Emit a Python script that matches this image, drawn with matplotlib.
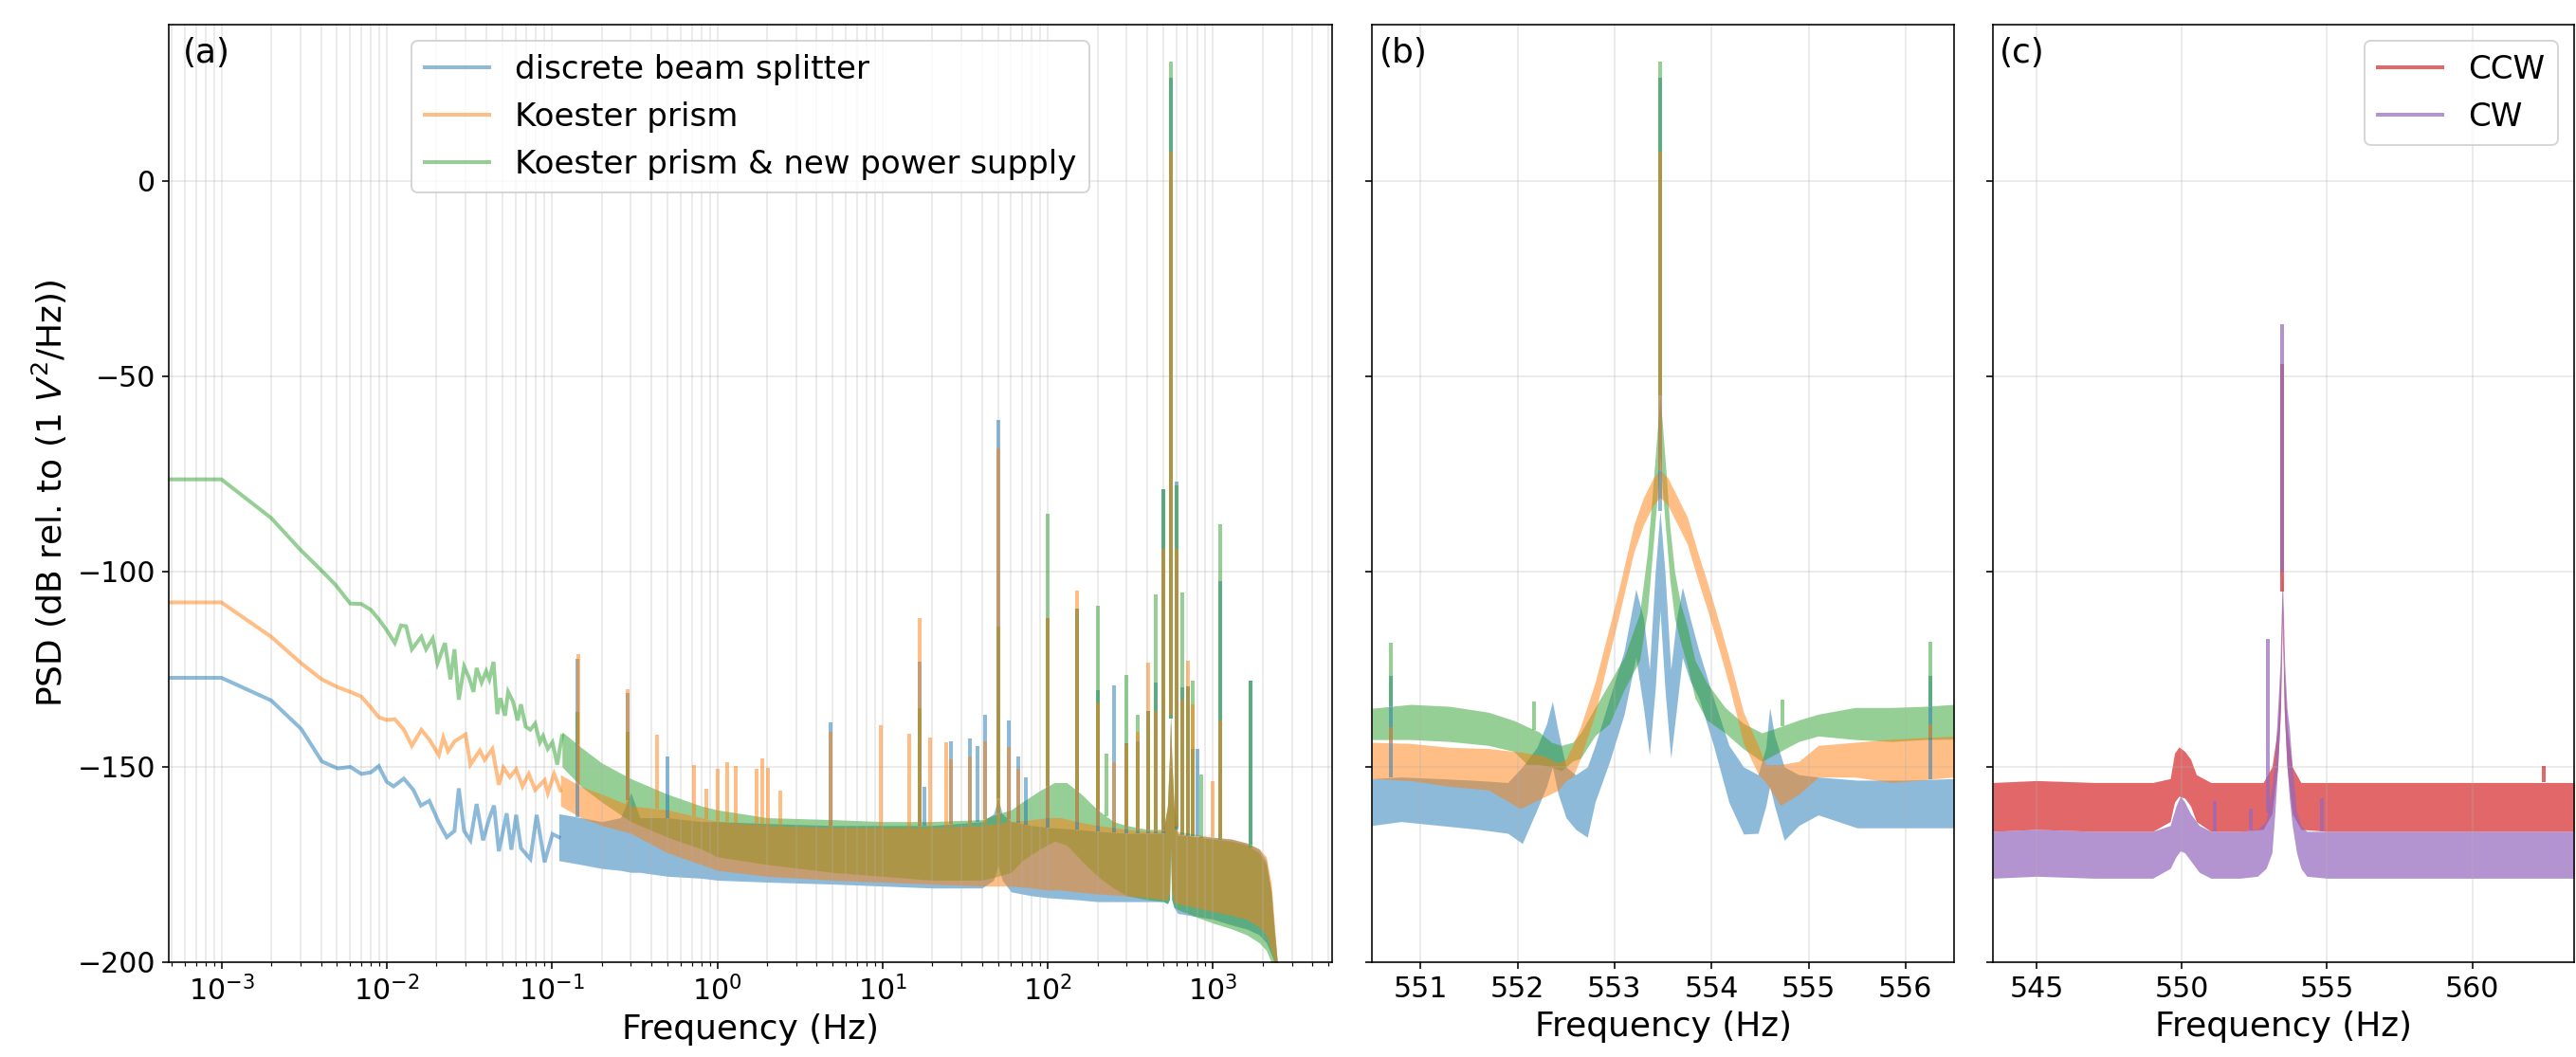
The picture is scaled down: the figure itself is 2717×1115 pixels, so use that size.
import numpy as np
import matplotlib
matplotlib.use("Agg")
import matplotlib.pyplot as plt
from matplotlib.lines import Line2D

# ---------------- colours / labels ----------------
C_BS, C_KP, C_NP = "#1f77b4", "#ff7f0e", "#2ca02c"
C_CCW, C_CW = "#d62728", "#9467bd"
labels_a = ["discrete beam splitter", "Koester prism", "Koester prism & new power supply"]
labels_c = ["CCW", "CW"]

# ================= Panel (a) : broadband PSD (Hz, dB) =================
# --- discrete beam splitter ---
bs_low_f = [4.88e-4, 1.0e-3, 2.0e-3, 3.04e-3, 4.05e-3, 5.05e-3, 6.02e-3, 7.02e-3, 8.02e-3, 8.95e-3,
            0.0100, 0.0110, 0.0127, 0.0145, 0.0161, 0.0181, 0.0207, 0.0231, 0.0257, 0.0273, 0.0294,
            0.0321, 0.0350, 0.0383, 0.0418, 0.0446, 0.0477, 0.0532, 0.0568, 0.0607, 0.0649, 0.0740,
            0.0808, 0.0903, 0.1007, 0.110]
bs_low_v = [-127.2, -127.2, -133.0, -140.3, -148.6, -150.4, -150.0, -151.8, -151.4, -149.8,
            -153.8, -155.0, -153.0, -155.9, -159.9, -158.7, -164.3, -168.0, -166.4, -155.5, -166.4,
            -168.8, -159.5, -168.8, -163.1, -159.9, -171.6, -161.9, -171.2, -162.3, -170.8, -173.6,
            -162.3, -174.4, -167.2, -168.0]
bs_band_f = [0.110, 0.15, 0.2, 0.26, 0.3, 0.34, 0.5, 0.8, 1, 2, 5, 10, 20, 40, 47, 50, 53, 60, 80,
             100, 150, 200, 300, 400, 500, 530, 545, 553, 562, 580, 610, 1000, 1300, 1600, 1900,
             2100, 2250, 2350, 2450]
bs_band_hi = [-162, -163, -164, -163, -156.6, -163, -163, -164, -164, -164.5, -165, -165, -165, -164,
              -162, -158, -162, -164, -165, -165.5, -166, -166.5, -167, -167, -167, -160, -147, -137,
              -147, -160, -167.5, -168, -168.5, -169.5, -171, -174, -182, -192, -200]
bs_band_lo = [-174, -175, -176, -176.5, -177, -177, -178, -178.5, -179, -179.5, -180, -180.5, -181,
              -181, -179, -175.2, -179, -182, -183, -183.5, -184, -184.5, -184.5, -184.5, -184.5,
              -185, -184, -170, -184, -186, -187.5, -189, -190.5, -191.5, -193, -195, -198, -200, -200]
bs_spk_f = [0.143, 0.288, 0.499, 4.82, 16.7, 18.0, 26.0, 34.0, 37.8, 42.0, 50.0, 58.0, 66.6, 74.0,
            100, 150, 200, 250, 300, 352, 403, 452, 500, 553.5, 604, 650, 701, 752, 800, 1110, 1680]
bs_spk_v = [-122.3, -131.0, -147.4, -138.7, -123.0, -155.0, -143.5, -142.7, -144.6, -136.6, -61.1,
            -138.1, -147.4, -152.8, -111.8, -109.5, -130.4, -129.1, -144.0, -143.5, -135.8, -128.4,
            -79.0, 26.4, -77.0, -129.6, -129.3, -145.5, -145.5, -102.5, -128.0]

# --- Koester prism ---
kp_low_f = [4.88e-4, 1.0e-3, 2.0e-3, 3.04e-3, 4.05e-3, 5.05e-3, 6.02e-3, 7.02e-3, 8.02e-3, 8.95e-3,
            0.0100, 0.0112, 0.0127, 0.0142, 0.0162, 0.0181, 0.0207, 0.0220, 0.0235, 0.0257, 0.0300,
            0.0321, 0.0366, 0.0391, 0.0436, 0.0477, 0.0509, 0.0556, 0.0607, 0.0663, 0.0724, 0.0791,
            0.0902, 0.0943, 0.1030, 0.1125]
kp_low_v = [-107.9, -107.9, -116.7, -123.5, -127.6, -129.6, -130.8, -132.0, -134.8, -137.3,
            -138.0, -137.8, -140.5, -144.6, -140.5, -143.0, -147.0, -142.5, -146.0, -143.5, -141.7,
            -149.4, -145.8, -148.2, -145.4, -154.6, -150.2, -152.6, -150.6, -155.0, -151.8, -155.9,
            -153.4, -156.7, -151.8, -156.0]
kp_band_f = [0.1125, 0.15, 0.2, 0.3, 0.5, 0.8, 1, 2, 5, 10, 20, 40, 60, 80, 100, 120, 150, 200, 300,
             400, 500, 530, 545, 553, 562, 580, 610, 1000, 1300, 1600, 1900, 2100, 2250, 2350, 2450]
kp_band_hi = [-152, -155, -157, -160, -161, -163, -164, -165, -165.5, -165.5, -165.5, -165, -164,
              -163.5, -163, -163, -164, -165, -166, -166.5, -166.5, -160, -147, -136, -147, -160,
              -166.5, -168, -168.5, -169.5, -171, -173, -180, -190, -200]
kp_band_lo = [-160, -163, -165, -167, -172, -175, -176.5, -178, -179, -179.5, -180, -180.5, -180.5,
              -181, -181.5, -181.5, -182, -182.5, -183, -183.5, -184, -184, -182, -170, -182,
              -184.5, -185, -187, -188, -189, -191, -193, -197, -200, -200]
kp_spk_f = [0.144, 0.288, 0.431, 0.719, 0.863, 1.0, 1.15, 1.30, 1.73, 1.87, 2.02, 2.4, 4.82, 9.7,
            14.5, 16.7, 19.3, 24.2, 26.0, 34.0, 42.0, 50.0, 58.0, 66.6, 100, 150, 200, 250, 300,
            352, 403, 452, 500, 553.5, 604, 650, 701, 752, 1000, 1110]
kp_spk_v = [-121.1, -130.0, -141.7, -149.5, -155.5, -150.5, -148.8, -149.8, -150.6, -147.9, -150.2,
            -156.0, -141.0, -139.3, -141.5, -112.0, -142.5, -143.8, -148.0, -147.4, -143.5, -68.5,
            -145.0, -150.5, -111.8, -104.8, -133.5, -148.9, -144.3, -141.0, -123.4, -135.8, -94.3,
            7.4, -94.3, -132.7, -122.9, -134.0, -153.6, -138.1]

# --- Koester prism & new power supply ---
np_low_f = [4.88e-4, 1.0e-3, 2.0e-3, 3.0e-3, 4.0e-3, 4.8e-3, 5.05e-3, 6.02e-3, 7.02e-3, 8.02e-3,
            8.95e-3, 0.0100, 0.0112, 0.0122, 0.0131, 0.0142, 0.0162, 0.0173, 0.0190, 0.0203, 0.0225,
            0.0243, 0.0257, 0.0273, 0.0294, 0.0315, 0.0335, 0.0350, 0.0375, 0.0400, 0.0418, 0.0443,
            0.0467, 0.0487, 0.0520, 0.0543, 0.0580, 0.0620, 0.0649, 0.0693, 0.0740, 0.0791, 0.0845,
            0.0883, 0.0943, 0.1007, 0.1076, 0.1150]
np_low_v = [-76.4, -76.4, -86.3, -94.4, -99.6, -103.0, -104.1, -108.2, -108.3, -109.8,
            -112.2, -115.0, -118.3, -113.8, -114.0, -119.9, -116.7, -119.9, -117.1, -123.5, -118.3,
            -127.6, -119.9, -132.8, -124.3, -127.2, -130.8, -124.7, -128.4, -125.5, -127.6, -123.1,
            -136.5, -132.4, -136.9, -130.8, -133.2, -138.1, -134.0, -139.7, -140.5, -138.9, -143.7,
            -142.1, -145.4, -143.7, -149.4, -142.1]
np_band_f = [0.115, 0.15, 0.2, 0.3, 0.5, 0.8, 1, 2, 5, 10, 20, 40, 50, 60, 70, 90, 110, 130, 160,
             200, 250, 300, 400, 500, 530, 545, 553, 562, 580, 610, 800, 1000, 1300, 1600, 1900,
             2100, 2250, 2350, 2450]
np_band_hi = [-141, -145, -149, -153, -157, -160, -161, -163, -163.5, -164, -164, -163.5, -162, -161,
              -159, -156, -154, -154, -157, -161, -164, -165, -166, -166, -160, -148, -137, -148,
              -160, -167, -168, -168.5, -169, -170, -172, -175, -182, -192, -200]
np_band_lo = [-150, -155, -159, -164, -168, -171, -173, -175, -177, -178, -179, -179, -178, -177,
              -174, -171, -169, -170, -174, -178, -181, -183, -184, -184.5, -185, -184, -172, -184,
              -186, -186.5, -188.5, -190, -191.5, -193, -195, -197, -200, -200, -200]
np_spk_f = [0.143, 0.288, 16.7, 50.0, 100, 150, 200, 225, 300, 352, 403, 452, 500, 553.5, 604, 650,
            701, 752, 847, 1110, 1680]
np_spk_v = [-136.0, -141.0, -135.0, -114.0, -85.2, -109.5, -108.7, -146.6, -126.5, -136.6, -135.8,
            -105.8, -79.0, 30.6, -78.0, -105.3, -129.3, -128.0, -152.0, -87.8, -128.0]

# ================= Panel (b) : zoom around 553.5 Hz =================
b_bs_f = [550.5, 550.8, 551.2, 551.6, 551.9, 552.05, 552.2, 552.3, 552.36, 552.42, 552.5, 552.6,
          552.72, 552.8, 552.95, 553.1, 553.22, 553.3, 553.36, 553.42, 553.47, 553.52, 553.58,
          553.64, 553.7, 553.78, 553.87, 554.02, 554.18, 554.33, 554.48, 554.56, 554.6, 554.65,
          554.75, 554.9, 555.1, 555.5, 556.0, 556.5]
b_bs_hi = [-153, -152.6, -153, -153.5, -154, -150, -145, -139, -133.2, -141, -150, -152, -150,
           -144.5, -132.4, -120.3, -104.5, -112, -125, -100, -84.5, -100, -125, -112, -104, -112,
           -120.3, -132.4, -144.5, -150, -152, -145, -134.8, -142, -150, -152, -152.6, -153.4,
           -153.4, -153]
b_bs_lo = [-165, -164, -165, -166, -167, -169.6, -161, -155, -150, -157, -163, -166, -168, -159,
           -148.6, -136.5, -122, -135, -147, -130, -110, -130, -147.8, -135, -122, -128, -132.4,
           -144.5, -159.1, -167.2, -167, -160, -155, -160, -168.8, -165, -162.3, -165.6, -165.6,
           -165.6]
b_bs_spk_f = [550.7, 553.47, 556.26]
b_bs_spk_v = [-126.8, 26.4, -126.8]

b_kp_f = [550.5, 550.9, 551.3, 551.7, 552.03, 552.25, 552.42, 552.5, 552.57, 552.65, 552.8, 552.95,
          553.05, 553.2, 553.3, 553.4, 553.47, 553.55, 553.65, 553.75, 553.87, 553.96, 554.09,
          554.18, 554.33, 554.48, 554.56, 554.71, 554.9, 555.1, 555.48, 555.86, 556.5]
b_kp_hi = [-143.7, -144, -145, -145.3, -146.2, -147, -149, -148, -144.5, -139.7, -128.4, -114,
           -104, -88, -81, -76, -74, -76, -81, -86, -96, -103, -114, -122, -136, -144.5, -149.4,
           -149.4, -148.6, -144.5, -143.7, -142.9, -142.1]
b_kp_lo = [-153, -153.5, -155, -155.9, -160.7, -158, -156, -153.5, -152.6, -147.8, -136.5, -121,
           -111, -95, -88, -83, -81, -83, -88, -93, -103, -110, -121, -129, -144, -151.8, -154,
           -159.9, -157, -152.6, -152.6, -154, -152.6]
b_kp_spk_f = [550.7, 553.47, 556.26]
b_kp_spk_v = [-139.7, 7.4, -139.0]

b_np_f = [550.5, 550.9, 551.3, 551.7, 551.96, 552.1, 552.22, 552.35, 552.45, 552.57, 552.65, 552.8,
          552.95, 553.1, 553.26, 553.34, 553.41, 553.45, 553.47, 553.49, 553.53, 553.57, 553.62,
          553.68, 553.75, 553.83, 553.95, 554.14, 554.33, 554.52, 554.71, 554.9, 555.1, 555.48,
          555.86, 556.2, 556.5]
b_np_hi = [-135, -134, -134.5, -136, -138.1, -139.7, -141, -143.7, -144.5, -143.7, -141.3, -134.8,
           -128.4, -121.9, -110.6, -95, -74, -61, -55, -61, -74, -88.4, -100, -108.2, -114, -122.7,
           -128.4, -134.8, -138.9, -141.3, -139.7, -138, -136.5, -134.8, -134.8, -134.5, -134]
b_np_lo = [-143, -143, -143.5, -144.5, -146, -149.4, -149.4, -150, -151, -148.5, -147.8, -142,
           -138.9, -130.2, -122.7, -110, -90, -78, -70, -78, -90, -102, -112, -118, -124, -132.4,
           -138, -141.3, -145.4, -148.6, -146, -143.5, -142.1, -143, -143.5, -143, -142.9]
b_np_spk_f = [550.7, 552.17, 553.47, 554.73, 556.26]
b_np_spk_v = [-118.3, -133.2, 30.6, -132.8, -118.0]

# ================= Panel (c) : CCW / CW =================
c_ccw_f = [543.5, 545, 547, 549, 549.6, 549.75, 549.9, 550.1, 550.3, 550.5, 551, 552, 552.8, 553.1,
           553.3, 553.4, 553.46, 553.52, 553.62, 553.8, 554.1, 555, 557, 559, 561, 563.5]
c_ccw_hi = [-154, -153.5, -154, -154, -153, -146.5, -144.9, -146, -148, -152, -154, -154, -154,
            -150, -140, -125, -105, -125, -140, -150, -154, -154, -154, -154, -154, -154]
c_ccw_lo = [-166.5, -166, -166.5, -166.5, -164, -159, -157.5, -158, -160, -164, -166.5, -166.5,
            -166, -162, -150, -135, -112, -135, -150, -162, -166, -166.5, -166.5, -166.5, -166.5,
            -166.5]
c_ccw_spk_f = [553.46, 562.47]
c_ccw_spk_v = [-46.9, -149.8]

c_cw_f = [543.5, 545, 547, 549, 549.6, 549.8, 549.95, 550.1, 550.3, 550.6, 551, 552, 552.6, 552.9,
          553.1, 553.2, 553.3, 553.38, 553.46, 553.54, 553.62, 553.7, 553.8, 553.95, 554.1, 554.3,
          555, 557, 559, 561, 563.5]
c_cw_hi = [-166.5, -166, -166.5, -166.5, -165, -160, -157.5, -159, -162, -165, -166.5, -166.5,
           -166, -164, -155, -148, -135, -123.5, -100, -123.5, -135, -140, -150, -161.5, -165,
           -166.5, -166.5, -166.5, -166.5, -166.5, -166.5]
c_cw_lo = [-178.5, -178, -178.5, -178.5, -176, -173, -171.5, -172, -174, -177, -178.5, -178.5,
           -178, -176, -172, -162, -150, -138, -110, -138, -150, -158, -165, -172, -176, -178,
           -178.5, -178.5, -178.5, -178.5, -178.5]
c_cw_spk_f = [551.12, 552.36, 552.95, 553.46, 554.82]
c_cw_spk_v = [-158.7, -160.7, -117.3, -36.6, -157.9]

# ================= figure =================
DPI = 144
fig = plt.figure(figsize=(2717 / DPI, 1115 / DPI), dpi=DPI)
axA = fig.add_axes([0.06551, 0.08969, 0.45160, 0.88700])
axB = fig.add_axes([0.53258, 0.08969, 0.22598, 0.88700], sharey=axA)
axC = fig.add_axes([0.77365, 0.08969, 0.22562, 0.88700], sharey=axA)

LW = 2.0


def draw(ax, color, alpha, band_f, band_hi, band_lo, spk_f, spk_v,
         line_f=None, line_v=None, log=False):
    if line_f is not None:
        ax.plot(line_f, line_v, color=color, alpha=alpha, lw=LW, solid_joinstyle="miter")
    ax.fill_between(band_f, band_lo, band_hi, color=color, alpha=alpha, lw=0)
    xb = np.log10(band_f) if log else np.asarray(band_f, float)
    xs = np.log10(spk_f) if log else np.asarray(spk_f, float)
    base = np.interp(xs, xb, band_hi)
    ax.vlines(spk_f, base, spk_v, color=color, alpha=alpha, lw=LW)


# panel (a): draw order blue, green, orange
axA.set_xscale("log")
draw(axA, C_BS, 0.5, bs_band_f, bs_band_hi, bs_band_lo, bs_spk_f, bs_spk_v, bs_low_f, bs_low_v, log=True)
draw(axA, C_NP, 0.5, np_band_f, np_band_hi, np_band_lo, np_spk_f, np_spk_v, np_low_f, np_low_v, log=True)
draw(axA, C_KP, 0.5, kp_band_f, kp_band_hi, kp_band_lo, kp_spk_f, kp_spk_v, kp_low_f, kp_low_v, log=True)

# panel (b)
draw(axB, C_BS, 0.5, b_bs_f, b_bs_hi, b_bs_lo, b_bs_spk_f, b_bs_spk_v)
draw(axB, C_NP, 0.5, b_np_f, b_np_hi, b_np_lo, b_np_spk_f, b_np_spk_v)
draw(axB, C_KP, 0.5, b_kp_f, b_kp_hi, b_kp_lo, b_kp_spk_f, b_kp_spk_v)

# panel (c)
draw(axC, C_CCW, 0.7, c_ccw_f, c_ccw_hi, c_ccw_lo, c_ccw_spk_f, c_ccw_spk_v)
draw(axC, C_CW, 0.7, c_cw_f, c_cw_hi, c_cw_lo, c_cw_spk_f, c_cw_spk_v)

# axes cosmetics
axA.set_xlim(4.8e-4, 5250)
axB.set_xlim(550.5, 556.5)
axC.set_xlim(543.5, 563.5)
axA.set_ylim(-200, 40)
axA.set_yticks([-200, -150, -100, -50, 0])
axB.set_xticks([551, 552, 553, 554, 555, 556])
axC.set_xticks([545, 550, 555, 560])

axA.grid(True, which="both", axis="x", alpha=0.3)
axA.grid(True, which="major", axis="y", alpha=0.3)
for ax in (axB, axC):
    ax.grid(True, alpha=0.3)
    ax.tick_params(labelleft=False)

for ax in (axA, axB, axC):
    ax.tick_params(labelsize=15)
    ax.set_xlabel("Frequency (Hz)", fontsize=18)

axA.set_ylabel("PSD (dB rel. to (1 $V^2$/Hz))", fontsize=18)

for ax, t in ((axA, "(a)"), (axB, "(b)"), (axC, "(c)")):
    ax.text(0.012, 0.987, t, transform=ax.transAxes, fontsize=18, va="top", ha="left")

hA = [Line2D([], [], color=c, alpha=0.5, lw=LW) for c in (C_BS, C_KP, C_NP)]
axA.legend(hA, labels_a, loc="upper center", fontsize=17)
hC = [Line2D([], [], color=c, alpha=0.7, lw=LW) for c in (C_CCW, C_CW)]
axC.legend(hC, labels_c, loc="upper right", fontsize=17)

fig.savefig("out.png", dpi=DPI)
